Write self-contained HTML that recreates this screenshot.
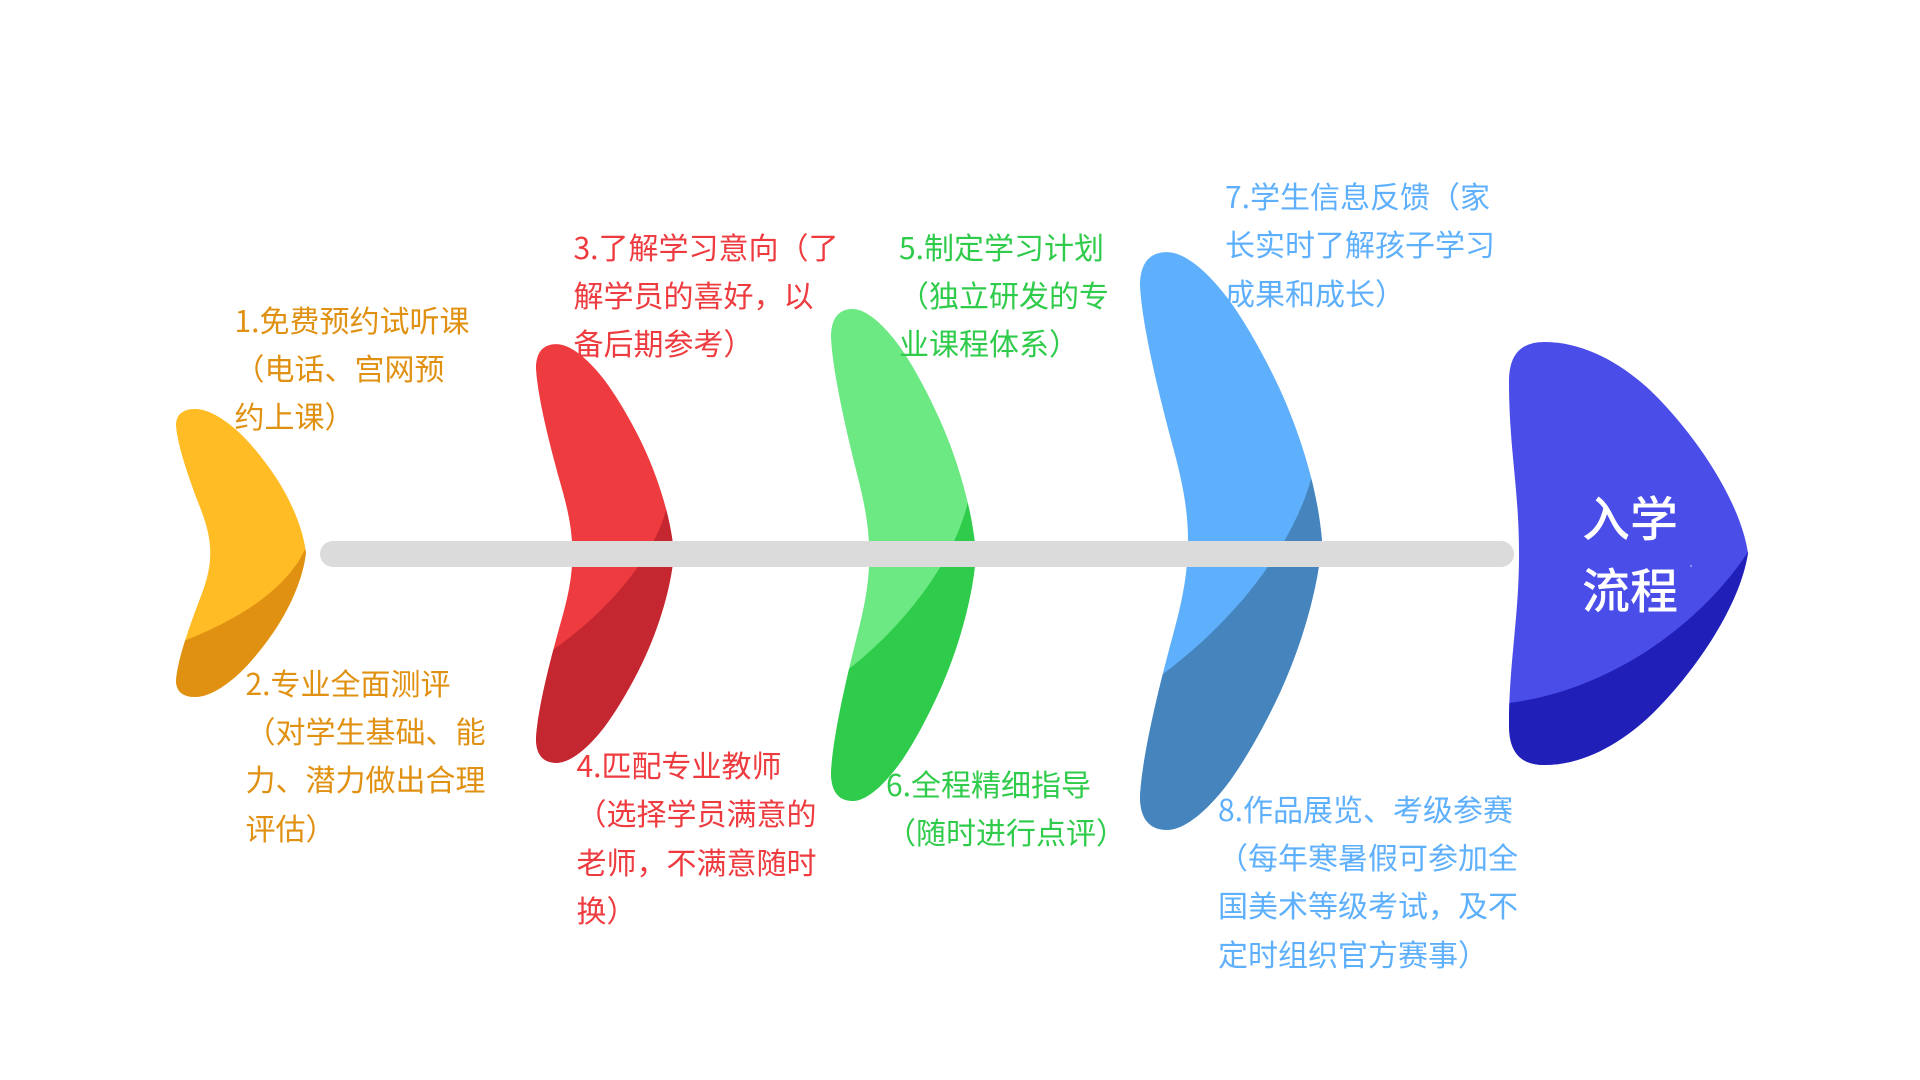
<!DOCTYPE html>
<html lang="zh"><head><meta charset="utf-8">
<style>
html,body{margin:0;padding:0;background:#fff}
#p{position:relative;width:1920px;height:1080px;overflow:hidden;background:#fff;font-family:"Noto Sans CJK SC","Liberation Sans",sans-serif}
svg{position:absolute;left:0;top:0}
.t{position:absolute;font-size:30px;line-height:48.4px;white-space:pre;font-weight:400}
.o{color:#E09112}.r{color:#EE3B3F}.g{color:#2FCB4A}.b{color:#5FB0FC}
.h{position:absolute;left:1580px;width:100px;text-align:center;color:#fff;font-size:48px;line-height:72px;white-space:pre;font-weight:500}
</style></head><body><div id="p">
<svg width="1920" height="1080" viewBox="0 0 1920 1080">
<defs>
<path id="f" d="M27,-288 C48,-288 73,-262 90,-239 C108,-214 126,-181 140,-151 C161,-105 178,-50 182,0 C178,50 161,105 140,151 C126,181 108,214 90,239 C73,262 48,288 27,288 C8,288 0,275 0,255 C2,215 18,150 31,101 C41,65 48,35 48,0 C48,-35 41,-65 31,-101 C18,-150 2,-215 0,-255 C0,-275 8,-288 27,-288Z"/>
<clipPath id="c1"><use href="#f" transform="translate(176,553) scale(.714,.5)"/></clipPath>
<clipPath id="c2"><use href="#f" transform="translate(536,553.5) scale(.758,.727)"/></clipPath>
<clipPath id="c3"><use href="#f" transform="translate(831,555) scale(.797,.854)"/></clipPath>
<clipPath id="c4"><use href="#f" transform="translate(1140,541) scale(1,1.003)"/></clipPath>
<clipPath id="c5"><path d="M1545,342 C1585,342 1625,365 1655,395 C1695,435 1740,500 1748,553 C1740,606 1695,671 1655,711 C1625,741 1585,765 1545,765 C1520,765 1509,752 1509,725 C1509,660 1519,620 1519,554 C1519,488 1509,448 1509,382 C1509,355 1520,342 1545,342Z"/></clipPath>
</defs>
<use href="#f" transform="translate(176,553) scale(.714,.5)" fill="#FFBC25"/>
<path clip-path="url(#c1)" d="M306,547 C290,585 245,617 186,640 L150,650 L150,720 L330,720 L330,547Z" fill="#E09112"/>
<use href="#f" transform="translate(536,553.5) scale(.758,.727)" fill="#EE3B3F"/>
<path clip-path="url(#c2)" d="M667,507 C655,555 610,610 554,649 L500,690 L500,780 L690,780 L690,507Z" fill="#C42730"/>
<use href="#f" transform="translate(831,555) scale(.797,.854)" fill="#6CE982"/>
<path clip-path="url(#c3)" d="M968,501 C955,560 905,625 850,668 L800,710 L800,820 L990,820 L990,501Z" fill="#2FCB4A"/>
<use href="#f" transform="translate(1140,541) scale(1,1.003)" fill="#5FB0FC"/>
<path clip-path="url(#c4)" d="M1312,475 C1300,525 1255,605 1163,674 L1120,705 L1120,850 L1340,850 L1340,475Z" fill="#4584BC"/>
<path d="M1545,342 C1585,342 1625,365 1655,395 C1695,435 1740,500 1748,553 C1740,606 1695,671 1655,711 C1625,741 1585,765 1545,765 C1520,765 1509,752 1509,725 C1509,660 1519,620 1519,554 C1519,488 1509,448 1509,382 C1509,355 1520,342 1545,342Z" fill="#4A4DE8"/>
<path clip-path="url(#c5)" d="M1748,552 C1700,625 1610,690 1509,703 L1490,705 L1490,780 L1760,780 L1760,552Z" fill="#201FB8"/>
<rect x="320" y="541" width="1194" height="26" rx="13" fill="#DBDBDB"/>
<circle cx="1691" cy="566" r="0.7" fill="#fff"/>
</svg>
<div class="h" style="top:479px">入学
流程</div>
<div class="t o" style="left:234.5px;top:294.5px">1.免费预约试听课
（电话、宫网预
约上课）</div>
<div class="t o" style="left:245.5px;top:657.5px">2.专业全面测评
（对学生基础、能
力、潜力做出合理
评估）</div>
<div class="t r" style="left:573.5px;top:221.5px">3.了解学习意向（了
解学员的喜好，以
备后期参考）</div>
<div class="t r" style="left:576.5px;top:740px">4.匹配专业教师
（选择学员满意的
老师，不满意随时
换）</div>
<div class="t g" style="left:899px;top:221.5px">5.制定学习计划
（独立研发的专
业课程体系）</div>
<div class="t g" style="left:886px;top:758.5px">6.全程精细指导
（随时进行点评）</div>
<div class="t b" style="left:1225px;top:171px">7.学生信息反馈（家
长实时了解孩子学习
成果和成长）</div>
<div class="t b" style="left:1218px;top:783.5px">8.作品展览、考级参赛
（每年寒暑假可参加全
国美术等级考试，及不
定时组织官方赛事）</div>
</div></body></html>
